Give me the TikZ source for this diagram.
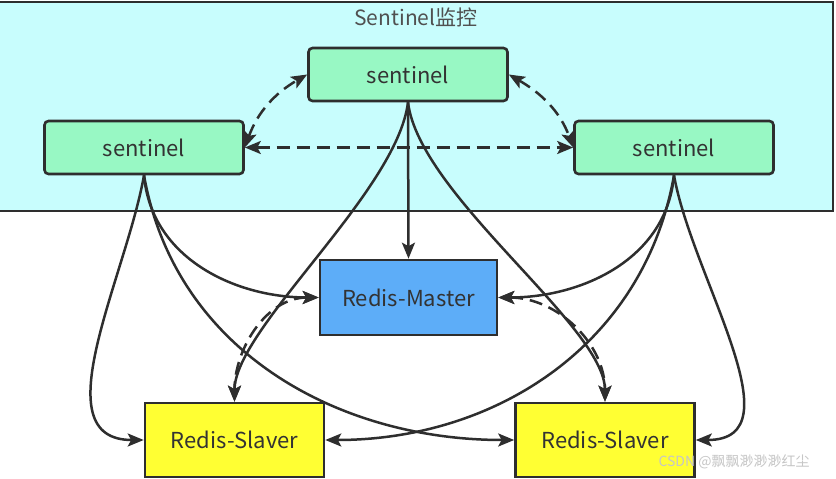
\documentclass[tikz,border=0pt]{standalone}
\usepackage{fontspec}
\setmainfont{Noto Sans CJK SC}
\usetikzlibrary{arrows.meta}
\definecolor{cyanbg}{HTML}{C8FDFD}
\definecolor{sentfill}{HTML}{98F8C4}
\definecolor{masterfill}{HTML}{5DADF8}
\definecolor{slavefill}{HTML}{FFFF33}
\definecolor{linecol}{HTML}{2E2E2E}
\definecolor{txtcol}{HTML}{333333}
\definecolor{titlecol}{HTML}{505050}
\tikzset{
  tip/.tip={Stealth[length=16pt,width=13pt,inset=3.5pt]},
  box/.style={draw=linecol, line width=2.6pt, text=txtcol, font=\fontsize{22}{24}\selectfont, inner sep=0pt},
  sentbox/.style={box, fill=sentfill, rounded corners=4pt, minimum width=199pt, minimum height=53pt},
  masterbox/.style={box, fill=masterfill, minimum width=177pt, minimum height=75pt},
  slavebox/.style={box, fill=slavefill, minimum width=179pt, minimum height=74pt},
  conn/.style={draw=linecol, line width=2.5pt, -tip},
  dconn/.style={conn, tip-tip, dash pattern=on 13pt off 7pt}
}
\begin{document}
\begin{tikzpicture}[x=1pt,y=1pt]
\useasboundingbox (0,0) rectangle (836,-479);
\fill[white] (0,0) rectangle (836,-479);
\draw[fill=cyanbg, draw=linecol, line width=2.6pt] (-5,-2) rectangle (833,-211);
\node[text=titlecol, font=\fontsize{21}{24}\selectfont] (title) at (416,-17) {Sentinel监控};

\node[sentbox] (ts) at (408,-74.5) {sentinel};
\node[sentbox] (ls) at (144,-147.5) {sentinel};
\node[sentbox] (rs) at (674,-147.5) {sentinel};
\node[masterbox] (master) at (408.5,-297.5) {Redis-Master};
\node[slavebox] (lslave) at (234.5,-440) {Redis-Slaver};
\node[slavebox] (rslave) at (605,-440) {Redis-Slaver};

% dashed sentinel links
\draw[dconn] (ls.east) -- (rs.west);
\draw[dconn] (ls.east) to[out=70,in=210] (ts.west);
\draw[dconn] (ts.east) to[out=-30,in=110] (rs.west);

% left sentinel
\draw[conn] (ls.south) to[out=-85,in=180] (master.west);
\draw[conn] (ls.south) to[out=-100,in=180] (lslave.west);
\draw[conn] (ls.south) to[out=-80,in=180] (rslave.west);

% top sentinel
\draw[conn] (ts.south) -- (master.north);
\draw[conn] (ts.south) to[out=-97,in=90,out looseness=0.67,in looseness=0.54] (lslave.north);
\draw[conn] (ts.south) to[out=-83,in=90,out looseness=0.67,in looseness=0.54] (rslave.north);

% right sentinel
\draw[conn] (rs.south) to[out=-95,in=0] (master.east);
\draw[conn] (rs.south) to[out=-80,in=0] (rslave.east);
\draw[conn] (rs.south) to[out=-100,in=0] (lslave.east);

% master - slaves dashed
\draw[dconn] (master.west) to[out=180,in=90] (lslave.north);
\draw[dconn] (master.east) to[out=0,in=90] (rslave.north);

\node[text=gray!45, font=\fontsize{14}{16}\selectfont, anchor=west] (wm) at (655,-462) {CSDN @飘飘渺渺渺红尘};
\end{tikzpicture}
\end{document}
